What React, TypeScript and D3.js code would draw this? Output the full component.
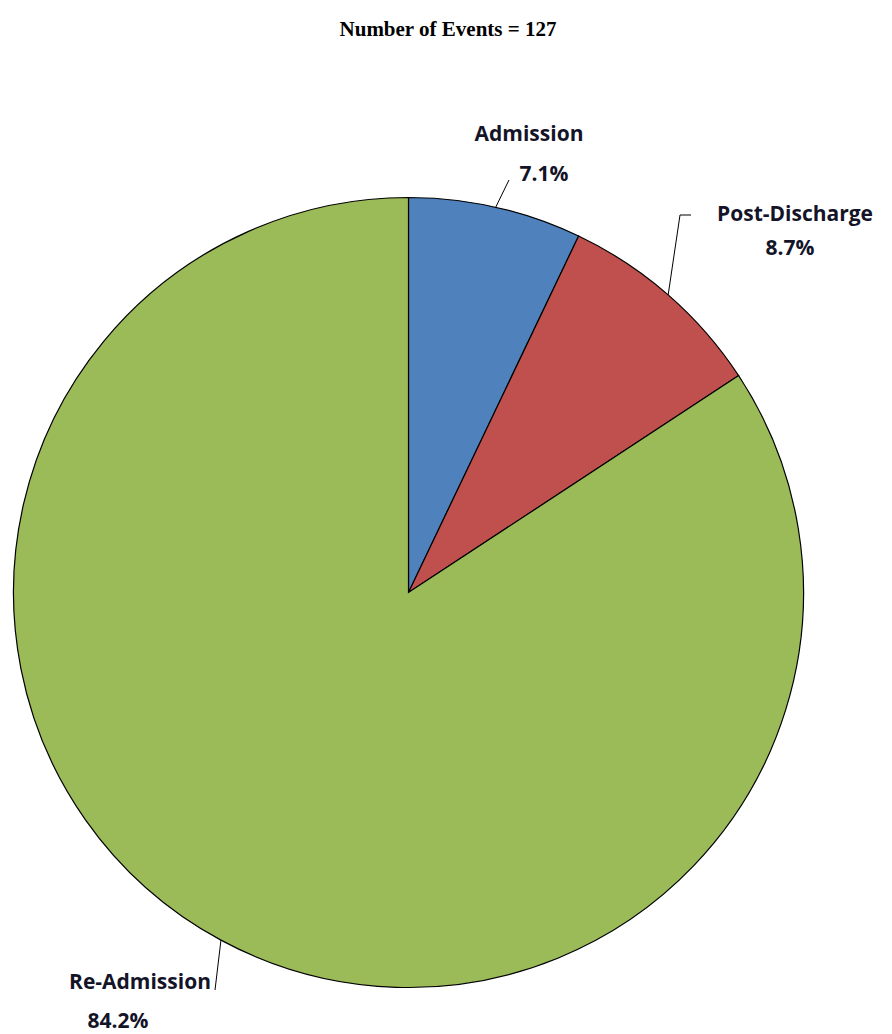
import React from "react";
import * as d3 from "d3";

const categories = ["Admission", "Post-Discharge", "Re-Admission"];
const counts = [9, 11, 107];
const percentLabels = ["7.1%", "8.7%", "84.2%"];
const colors = ["#4F81BD", "#C0504D", "#9BBB59"];
const title = "Number of Events = 127";

const W = 892;
const H = 1034;
const cx = 408.5;
const cy = 592.5;
const R = 395;

const labelLayout = [
  { end: [509, 180], elbow: null, name: [529, 141], pct: [544, 181] },
  { end: [680, 215], elbow: [691, 215], name: [795, 221], pct: [790, 255] },
  { end: [215, 990], elbow: null, name: [140, 989], pct: [118, 1028] },
];

export default function App() {
  const data = categories.map((c, i) => ({ c, v: counts[i], i }));
  const pie = d3.pie<any>().value((d) => d.v).sort(null);
  const arcs = pie(data);
  const arc = d3.arc<any>().innerRadius(0).outerRadius(R);
  const font = "'Open Sans', 'Liberation Sans', sans-serif";
  return (
    <svg width={W} height={H} style={{ display: "block", position: "absolute", left: 0, top: 0 }}>
      <rect width={W} height={H} fill="#fff" />
      <text x={448} y={36} textAnchor="middle" fontFamily="'Liberation Serif', 'Times New Roman', serif" fontWeight="bold" fontSize={21} fill="#000">
        {title}
      </text>
      <g transform={`translate(${cx},${cy})`}>
        {arcs.map((a, i) => (
          <path key={i} d={arc(a) as string} fill={colors[i]} stroke="#000" strokeWidth={1.2} />
        ))}
      </g>
      {arcs.map((a, i) => {
        const mid = (a.startAngle + a.endAngle) / 2;
        const x0 = cx + R * Math.sin(mid);
        const y0 = cy - R * Math.cos(mid);
        const L = labelLayout[i];
        let d = `M${x0},${y0}L${L.end[0]},${L.end[1]}`;
        if (L.elbow) d += `L${L.elbow[0]},${L.elbow[1]}`;
        return (
          <g key={i}>
            <path d={d} fill="none" stroke="#000" strokeWidth={1} />
            <text x={L.name[0]} y={L.name[1]} textAnchor="middle" fontFamily={font} fontWeight="bold" fontSize={21} fill="#141428">
              {categories[i]}
            </text>
            <text x={L.pct[0]} y={L.pct[1]} textAnchor="middle" fontFamily={font} fontWeight="bold" fontSize={21} fill="#141428">
              {percentLabels[i]}
            </text>
          </g>
        );
      })}
    </svg>
  );
}
